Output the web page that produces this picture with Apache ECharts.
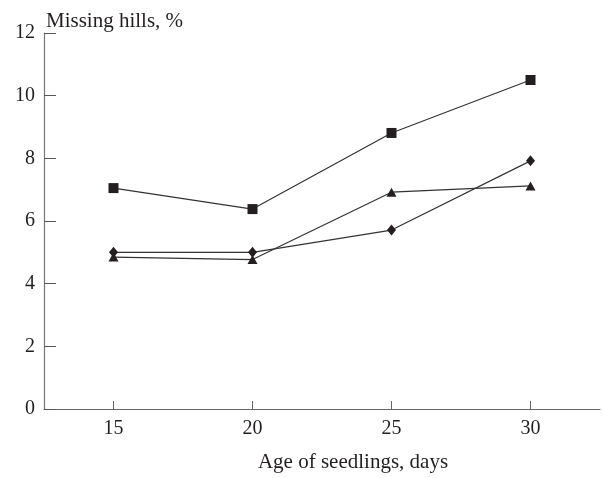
<!DOCTYPE html>
<html>
<head>
<meta charset="utf-8">
<script src="https://cdn.jsdelivr.net/npm/echarts@6/dist/echarts.min.js"></script>
<style>html,body{margin:0;padding:0;background:#fff;}#c{width:603px;height:478px;}</style>
</head>
<body>
<div id="c"></div>
<script>
const categories = ['15', '20', '25', '30'];
const squareSeries = [7.05, 6.38, 8.81, 10.5];
const diamondSeries = [5.0, 5.0, 5.71, 7.92];
const triangleSeries = [4.85, 4.77, 6.92, 7.12];
const yTicks = [0, 2, 4, 6, 8, 10, 12];

const font = 'Liberation Serif, DejaVu Serif, serif';
const chart = echarts.init(document.getElementById('c'), null, {renderer: 'canvas'});
function mk(data, symbol, size) {
  return {
    type: 'line', data: data, symbol: symbol, symbolSize: size,
    itemStyle: {color: '#231f20'},
    lineStyle: {color: '#333', width: 1.2},
    animation: false
  };
}
chart.setOption({
  animation: false,
  title: {text: 'Missing hills, %', left: 41, top: 6,
    textStyle: {fontFamily: font, fontSize: 21, fontWeight: 'normal', color: '#231f20'}},
  grid: {left: 44, right: 3, top: 33, bottom: 69, containLabel: false, outerBoundsMode: 'none'},
  xAxis: {
    type: 'category', data: categories, boundaryGap: true,
    name: 'Age of seedlings, days', nameLocation: 'middle', nameGap: 43,
    nameTextStyle: {fontFamily: font, fontSize: 21, color: '#231f20', padding: [0, 0, 0, 62]},
    axisLine: {lineStyle: {color: '#666', width: 1.2}},
    axisTick: {show: true, inside: true, alignWithLabel: true, length: 8, lineStyle: {color: '#666'}},
    axisLabel: {fontFamily: font, fontSize: 20, color: '#231f20', margin: 10},
    splitLine: {show: false}
  },
  yAxis: {
    type: 'value', min: 0, max: 12, interval: 2,
    axisLine: {show: true, lineStyle: {color: '#777', width: 1.2}},
    axisTick: {show: true, inside: true, length: 12, lineStyle: {color: '#555'}},
    axisLabel: {fontFamily: font, fontSize: 20, color: '#231f20', margin: 9,
      formatter: function(v){ return yTicks.indexOf(v) >= 0 ? String(v) : ''; }},
    splitLine: {show: false}
  },
  series: [
    mk(squareSeries, 'rect', 10),
    mk(diamondSeries, 'diamond', [9, 11]),
    mk(triangleSeries, 'triangle', [10, 9])
  ]
});
</script>
</body>
</html>
